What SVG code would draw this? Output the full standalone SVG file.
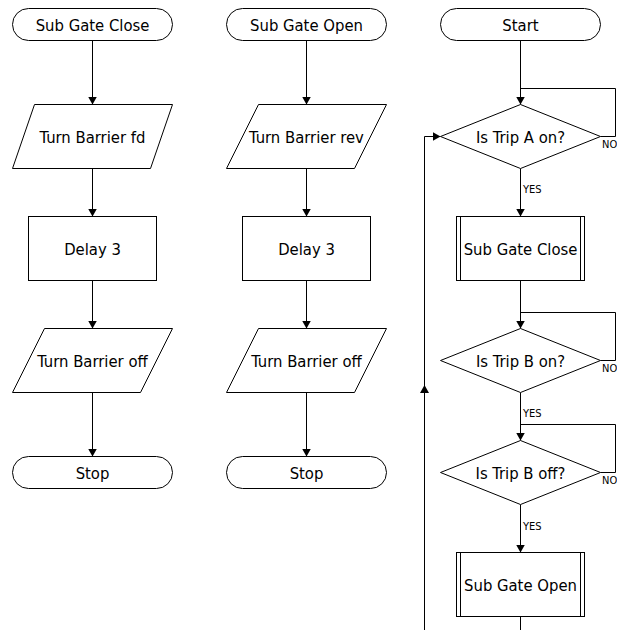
<svg xmlns="http://www.w3.org/2000/svg" width="617" height="630" viewBox="0 0 617 630">
<defs>
<marker id="arr" markerUnits="userSpaceOnUse" markerWidth="9" markerHeight="9" refX="8" refY="4.5" orient="auto">
<path d="M0,0 L8,4.5 L0,9 z" fill="#000"/>
</marker>
<style>
.s{fill:#fff;stroke:#000;stroke-width:1}
.c{fill:none;stroke:#000;stroke-width:1}
.a{marker-end:url(#arr)}
.t{font-family:"DejaVu Sans Condensed","DejaVu Sans","Liberation Sans",sans-serif;font-stretch:condensed;font-size:16.5px;text-anchor:middle;fill:#000}
.l{font-family:"DejaVu Sans Condensed","DejaVu Sans","Liberation Sans",sans-serif;font-stretch:condensed;font-size:11px;fill:#000}
</style>
</defs>
<rect width="617" height="630" fill="#fff"/>
<g id="connectors">
<path class="c a" d="M92.5,40.5 V104.5"/>
<path class="c a" d="M92.5,168.5 V216.5"/>
<path class="c a" d="M92.5,280.5 V328.5"/>
<path class="c a" d="M92.5,392.5 V456.5"/>
<path class="c a" d="M306.5,40.5 V104.5"/>
<path class="c a" d="M306.5,168.5 V216.5"/>
<path class="c a" d="M306.5,280.5 V328.5"/>
<path class="c a" d="M306.5,392.5 V456.5"/>
<path class="c a" d="M520.5,40.5 V104.5"/>
<path class="c" d="M600.5,136.5 H615.5 V88.5 H520.5"/>
<path class="c a" d="M520.5,168.5 V216.5"/>
<path class="c a" d="M520.5,280.5 V328.5"/>
<path class="c" d="M600.5,360.5 H615.5 V312.5 H520.5"/>
<path class="c a" d="M520.5,392.5 V440.5"/>
<path class="c" d="M600.5,472.5 H615.5 V424.5 H520.5"/>
<path class="c a" d="M520.5,504.5 V552.5"/>
<path class="c" d="M520.5,616.5 V630"/>
<path class="c a" d="M424.5,630 V385"/>
<path class="c a" d="M424.5,386 V136.5 H440.5"/>
<text class="l" x="523" y="193">YES</text>
<text class="l" x="602" y="148">NO</text>
<text class="l" x="523" y="417">YES</text>
<text class="l" x="602" y="372">NO</text>
<text class="l" x="523" y="530">YES</text>
<text class="l" x="602" y="484">NO</text>
</g>
<g id="n_subclose_start"><rect class="s" x="12.5" y="8.5" width="160" height="32" rx="16"/><text class="t" x="92.5" y="30.5">Sub Gate Close</text></g>
<g id="n_fd"><polygon class="s" points="34.5,104.5 172.5,104.5 150.5,168.5 12.5,168.5"/><text class="t" x="92.5" y="142.5">Turn Barrier fd</text></g>
<g id="n_delay1"><rect class="s" x="28.5" y="216.5" width="128" height="64"/><text class="t" x="92.5" y="254.5">Delay 3</text></g>
<g id="n_off1"><polygon class="s" points="44.5,328.5 172.5,328.5 140.5,392.5 12.5,392.5"/><text class="t" x="92.5" y="366.5">Turn Barrier off</text></g>
<g id="n_stop1"><rect class="s" x="12.5" y="456.5" width="160" height="32" rx="16"/><text class="t" x="92.5" y="478.5">Stop</text></g>
<g id="n_subopen_start"><rect class="s" x="226.5" y="8.5" width="160" height="32" rx="16"/><text class="t" x="306.5" y="30.5">Sub Gate Open</text></g>
<g id="n_rev"><polygon class="s" points="258.5,104.5 386.5,104.5 354.5,168.5 226.5,168.5"/><text class="t" x="306.5" y="142.5">Turn Barrier rev</text></g>
<g id="n_delay2"><rect class="s" x="242.5" y="216.5" width="128" height="64"/><text class="t" x="306.5" y="254.5">Delay 3</text></g>
<g id="n_off2"><polygon class="s" points="258.5,328.5 386.5,328.5 354.5,392.5 226.5,392.5"/><text class="t" x="306.5" y="366.5">Turn Barrier off</text></g>
<g id="n_stop2"><rect class="s" x="226.5" y="456.5" width="160" height="32" rx="16"/><text class="t" x="306.5" y="478.5">Stop</text></g>
<g id="n_start"><rect class="s" x="440.5" y="8.5" width="160" height="32" rx="16"/><text class="t" x="520.5" y="30.5">Start</text></g>
<g id="n_tripA"><polygon class="s" points="520.5,104.5 600.5,136.5 520.5,168.5 440.5,136.5"/><text class="t" x="520.5" y="142.5">Is Trip A on?</text></g>
<g id="n_callclose"><rect class="s" x="456.5" y="216.5" width="128" height="64"/><path class="c" d="M460.5,216.5 V280.5 M580.5,216.5 V280.5"/><text class="t" x="520.5" y="254.5">Sub Gate Close</text></g>
<g id="n_tripBon"><polygon class="s" points="520.5,328.5 600.5,360.5 520.5,392.5 440.5,360.5"/><text class="t" x="520.5" y="366.5">Is Trip B on?</text></g>
<g id="n_tripBoff"><polygon class="s" points="520.5,440.5 600.5,472.5 520.5,504.5 440.5,472.5"/><text class="t" x="520.5" y="478.5">Is Trip B off?</text></g>
<g id="n_callopen"><rect class="s" x="456.5" y="552.5" width="128" height="64"/><path class="c" d="M460.5,552.5 V616.5 M580.5,552.5 V616.5"/><text class="t" x="520.5" y="590.5">Sub Gate Open</text></g>
</svg>
